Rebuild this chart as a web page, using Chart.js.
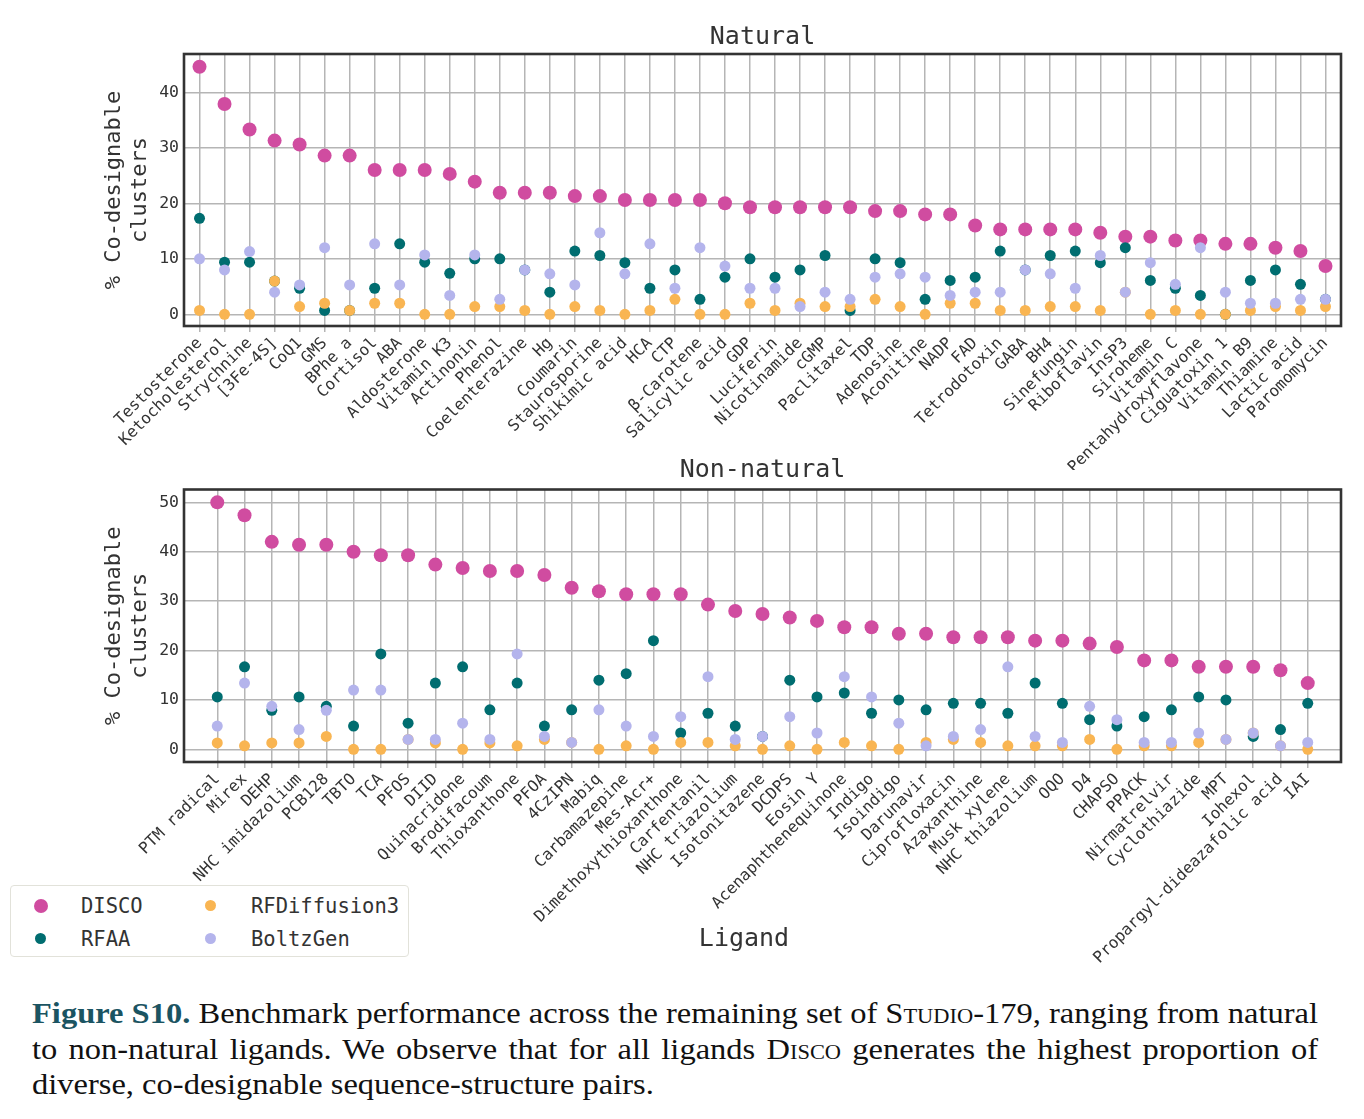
<!DOCTYPE html>
<html><head><meta charset="utf-8">
<script src="https://cdn.jsdelivr.net/npm/chart.js@4.4.0/dist/chart.umd.min.js"></script>
<style>
html,body{margin:0;padding:0;background:#fff;}
body{width:1364px;height:1119px;position:relative;overflow:hidden;}
#w1{position:absolute;left:0;top:0;width:1364px;height:470px;}
#w2{position:absolute;left:0;top:430px;width:1364px;height:560px;}
#legend{position:absolute;left:10px;top:885px;width:397px;height:70px;border:1.5px solid #e2e2da;border-radius:4px;background:#fff;font-family:'DejaVu Sans Mono',monospace;font-size:20.5px;color:#333;}
#legend .m{position:absolute;border-radius:50%;}
#legend .t{position:absolute;line-height:24px;}
#xlab{position:absolute;left:644px;top:923px;width:200px;text-align:center;font-family:'DejaVu Sans Mono',monospace;font-size:25px;line-height:30px;color:#333;}
#cap{position:absolute;left:32px;top:996px;font-family:'Liberation Serif',serif;font-size:29px;line-height:35.5px;color:#111;transform-origin:0 0;}
#cap .l{white-space:nowrap;}
#cap .j{text-align:justify;text-align-last:justify;}
#cap .fig{color:#1b5462;font-weight:bold;}
#cap .sc{font-variant:small-caps;}
#probe{position:absolute;visibility:hidden;white-space:nowrap;font-family:'Liberation Serif',serif;font-size:29px;}
</style></head>
<body>
<div id="w1"><canvas id="c1"></canvas></div>
<div id="w2"><canvas id="c2"></canvas></div>
<div id="xlab">Ligand</div>
<div id="legend">
  <div class="m" style="left:23px;top:13px;width:14px;height:14px;background:#D04CA0"></div>
  <div class="t" style="left:70px;top:8px">DISCO</div>
  <div class="m" style="left:24px;top:47px;width:11px;height:11px;background:#006D70"></div>
  <div class="t" style="left:70px;top:41px">RFAA</div>
  <div class="m" style="left:194px;top:14px;width:11px;height:11px;background:#F9B552"></div>
  <div class="t" style="left:240px;top:8px">RFDiffusion3</div>
  <div class="m" style="left:194px;top:47px;width:11px;height:11px;background:#B4B4EC"></div>
  <div class="t" style="left:240px;top:41px">BoltzGen</div>
</div>
<span id="probe"><span style="color:#1b5462;font-weight:bold">Figure S10.</span> Benchmark performance across the remaining set of <span style="font-variant:small-caps">Studio</span>-179, ranging from natural</span>
<div id="cap">
  <div class="l j"><span class="fig">Figure S10.</span> Benchmark performance across the remaining set of <span class="sc">Studio</span>-179, ranging from natural</div>
  <div class="l j">to non-natural ligands. We observe that for all ligands <span class="sc">Disco</span> generates the highest proportion of</div>
  <div class="l">diverse, co-designable sequence-structure pairs.</div>
</div>
<script>
// ---------- Natural ----------
const natLabels = ['Testosterone','Ketocholesterol','Strychnine','[3Fe-4S]','CoQ1','GMS','BPhe a','Cortisol','ABA','Aldosterone','Vitamin K3','Actinonin','Phenol','Coelenterazine','Hg','Coumarin','Staurosporine','Shikimic acid','HCA','CTP','β-Carotene','Salicylic acid','GDP','Luciferin','Nicotinamide','cGMP','Paclitaxel','TDP','Adenosine','Aconitine','NADP','FAD','Tetrodotoxin','GABA','BH4','Sinefungin','Riboflavin','InsP3','Siroheme','Vitamin C','Pentahydroxyflavone','Ciguatoxin 1','Vitamin B9','Thiamine','Lactic acid','Paromomycin'];
const natDisco = [44.6,37.9,33.3,31.3,30.6,28.6,28.6,26.0,26.0,26.0,25.3,23.9,21.9,21.9,21.9,21.3,21.3,20.6,20.6,20.6,20.6,20.0,19.3,19.3,19.3,19.3,19.3,18.6,18.6,18.0,18.0,16.0,15.3,15.3,15.3,15.3,14.7,14.0,14.0,13.3,13.3,12.7,12.7,12.0,11.4,8.7];
const natRfaa = [17.3,9.4,9.4,6.0,4.7,0.7,0.7,4.7,12.7,9.4,7.4,10.0,10.0,8.0,4.0,11.4,10.6,9.3,4.7,8.0,2.7,6.7,10.0,6.7,8.0,10.6,0.7,10.0,9.3,2.7,6.1,6.7,11.4,8.0,10.6,11.4,9.3,12.0,6.1,4.7,3.4,0.0,6.1,8.0,5.4,2.7];
const natRfd3 = [0.7,0,0,6.0,1.4,2.0,0.7,2.0,2.0,0,0,1.4,1.4,0.7,0,1.4,0.7,0,0.7,2.7,0,0,2.0,0.7,2.0,1.4,1.4,2.7,1.4,0,2.0,2.0,0.7,0.7,1.4,1.4,0.7,4.0,0,0.7,0,0,0.7,1.4,0.7,1.4];
const natBoltz = [10.0,8.0,11.3,4.0,5.3,12.0,5.3,12.7,5.3,10.7,3.4,10.7,2.7,8.0,7.3,5.3,14.7,7.3,12.7,4.7,12.0,8.7,4.7,4.7,1.4,4.0,2.7,6.7,7.3,6.7,3.4,4.0,4.0,8.0,7.3,4.7,10.6,4.0,9.3,5.4,12.0,4.0,2.0,2.0,2.7,2.7];
const natYTicks = [0,10,20,30,40];

// ---------- Non-natural ----------
const nonLabels = ['PTM radical','Mirex','DEHP','NHC imidazolium','PCB128','TBTO','TCA','PFOS','DIID','Quinacridone','Brodifacoum','Thioxanthone','PFOA','4CzIPN','Mabiq','Carbamazepine','Mes-Acr+','Dimethoxythioxanthone','Carfentanil','NHC triazolium','Isotonitazene','DCDPS','Eosin Y','Acenaphthenequinone','Indigo','Isoindigo','Darunavir','Ciprofloxacin','Azaxanthine','Musk xylene','NHC thiazolium','OQO','D4','CHAPSO','PPACK','Nirmatrelvir','Cyclothiazide','MPT','Iohexol','Propargyl-dideazafolic acid','IAI'];
const nonDisco = [50.0,47.4,42.0,41.4,41.4,40.0,39.3,39.3,37.4,36.7,36.1,36.1,35.3,32.7,32.0,31.4,31.4,31.4,29.3,28.0,27.4,26.7,26.0,24.7,24.7,23.4,23.4,22.7,22.7,22.7,22.0,22.0,21.4,20.7,18.0,18.0,16.7,16.7,16.7,16.0,13.4];
const nonRfaa = [10.6,16.7,7.9,10.6,8.7,4.7,19.3,5.3,13.4,16.7,8.0,13.4,4.7,8.0,14.0,15.3,22.0,3.3,7.3,4.7,2.6,14.0,10.6,11.4,7.3,10.0,8.0,9.3,9.3,7.3,13.4,9.3,6.0,4.7,6.6,8.0,10.6,10.0,2.6,4.0,9.3];
const nonRfd3 = [1.3,0.7,1.3,1.3,2.6,0,0,2.0,1.3,0,1.3,0.7,2.0,1.4,0,0.7,0,1.4,1.4,0.7,0,0.7,0,1.4,0.7,0,1.4,2.0,1.4,0.7,0.7,0.7,2.0,0,0.7,0.7,1.4,2.0,3.3,0.7,0];
const nonBoltz = [4.7,13.4,8.7,4.0,7.9,12.0,12.0,2.0,2.0,5.3,2.0,19.3,2.6,1.4,8.0,4.7,2.6,6.6,14.7,2.0,2.6,6.6,3.3,14.7,10.6,5.3,0.7,2.6,4.0,16.7,2.6,1.4,8.7,6.0,1.4,1.4,3.3,2.0,3.3,0.7,1.4];
const nonYTicks = [0,10,20,30,40,50];

const COL = {disco:'#D04CA0', rfaa:'#006D70', rfd3:'#F9B552', boltz:'#B4B4EC'};
const FONT = "'DejaVu Sans Mono', monospace";
const GRID = '#b5b5b5';

const frame = {id:'frame', afterDraw(chart){
  const {ctx, chartArea:a} = chart;
  ctx.save(); ctx.strokeStyle='#333'; ctx.lineWidth=2.6;
  ctx.strokeRect(a.left, a.top, a.right-a.left, a.bottom-a.top);
  ctx.restore();
}};

function build(id, labels, disco, rfaa, rfd3, boltz, yTicks, c){
  const pts = arr => arr.map((v,i)=>({x:i, y:v}));
  const ds = (label, arr, color, r, order) => ({label, data:pts(arr), backgroundColor:color, borderWidth:0, pointRadius:r, pointHoverRadius:r, order});
  return new Chart(document.getElementById(id), {
    type:'scatter',
    data:{datasets:[
      ds('DISCO', disco, COL.disco, 7, 3),
      ds('RFAA', rfaa, COL.rfaa, 5.5, 2),
      ds('RFDiffusion3', rfd3, COL.rfd3, 5.5, 1),
      ds('BoltzGen', boltz, COL.boltz, 5.5, 0)
    ]},
    options:{
      responsive:true, maintainAspectRatio:false, animation:false, events:[],
      layout:{padding:{left:0, right:23, top:0, bottom:0}},
      plugins:{
        legend:{display:false}, tooltip:{enabled:false},
        title:{display:true, fullSize:false, text:c.title, color:'#333', font:{family:FONT, size:25, weight:'normal', lineHeight:1.2}, padding:{top:c.tTop, bottom:c.tBot}}
      },
      scales:{
        x:{type:'linear', min:c.xmin, max:c.xmax,
          afterBuildTicks: s => { s.ticks = labels.map((_,i)=>({value:i})); },
          afterFit: s => { s.height = c.xh; },
          ticks:{autoSkip:false, minRotation:45, maxRotation:45, padding:2, color:'#333', font:{family:FONT, size:16}, callback: v => labels[v]},
          grid:{color:GRID, lineWidth:1.5, drawTicks:true, tickLength:6, tickColor:GRID, tickWidth:1.5},
          border:{display:false}
        },
        y:{min:c.ymin, max:c.ymax,
          afterBuildTicks: s => { s.ticks = yTicks.map(v=>({value:v})); },
          afterFit: s => { s.width = 184; },
          ticks:{padding:5, color:'#333', font:{family:FONT, size:16.5}},
          grid:{color:GRID, lineWidth:1.5, drawTicks:false},
          border:{display:false},
          title:{display:true, text:['% Co-designable','clusters'], color:'#333', font:{family:FONT, size:22, lineHeight:1.15}, padding:{top:102, bottom:0}}
        }
      }
    },
    plugins:[frame]
  });
}

build('c1', natLabels, natDisco, natRfaa, natRfd3, natBoltz, natYTicks,
  {title:'Natural', tTop:22, tBot:2, xmin:-0.62, xmax:45.62, ymin:-2.1, ymax:46.9, xh:144});
build('c2', nonLabels, nonDisco, nonRfaa, nonRfd3, nonBoltz, nonYTicks,
  {title:'Non-natural', tTop:25, tBot:4.5, xmin:-1.22, xmax:41.22, ymin:-2.57, ymax:52.6, xh:228});

// caption: stretch horizontally so the first line spans the same width as the reference
(function(){
  const target = 1286;
  const w = document.getElementById('probe').getBoundingClientRect().width;
  const s = target / w;
  const cap = document.getElementById('cap');
  cap.style.width = (target / s) + 'px';
  cap.style.transform = 'scaleX(' + s + ')';
})();
</script>
</body></html>
